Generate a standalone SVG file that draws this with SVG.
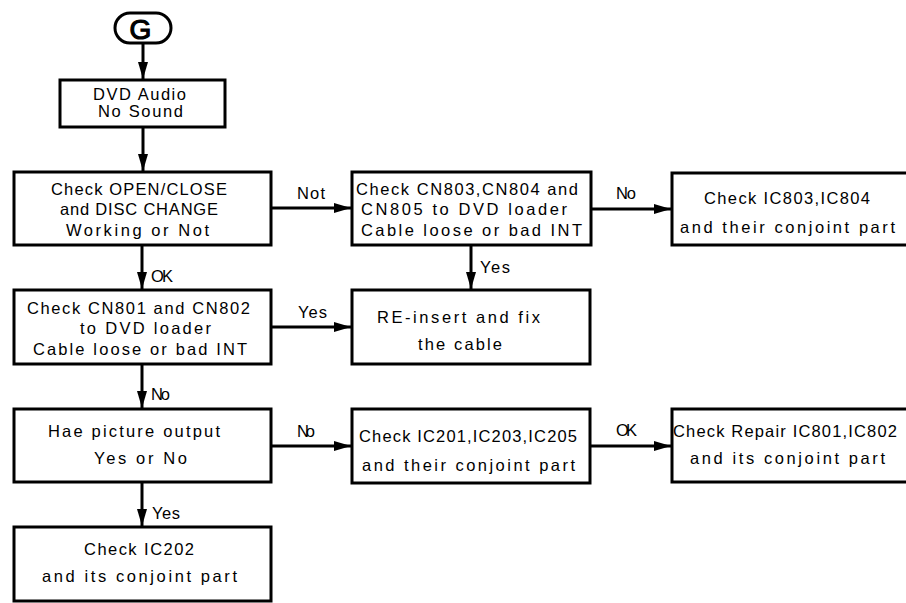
<svg xmlns="http://www.w3.org/2000/svg" width="906" height="603" viewBox="0 0 906 603">
<defs>
<marker id="ah" markerUnits="userSpaceOnUse" markerWidth="18" markerHeight="11" refX="17" refY="5" orient="auto">
<path d="M0,0 L17,5 L0,10 z" fill="#000"/>
</marker>
<style>
.box{fill:#fff;stroke:#000;stroke-width:3}
.t{font-family:"Liberation Sans",Arial,sans-serif;font-size:16.5px;fill:#000}
.c line{stroke:#000;stroke-width:3;marker-end:url(#ah)}
</style>
</defs>
<rect width="906" height="603" fill="#fff"/>
<g class="c" id="connectors">
<line x1="143" y1="43" x2="143" y2="79"/>
<line x1="143" y1="127" x2="143" y2="171"/>
<line x1="271" y1="208" x2="351" y2="208"/>
<line x1="591" y1="209" x2="671" y2="209"/>
<line x1="471" y1="245" x2="471" y2="289"/>
<line x1="142" y1="245" x2="142" y2="289"/>
<line x1="271" y1="327" x2="351" y2="327"/>
<line x1="142" y1="364" x2="142" y2="408"/>
<line x1="271" y1="446" x2="351" y2="446"/>
<line x1="590" y1="446" x2="671" y2="446"/>
<line x1="142" y1="482" x2="142" y2="526"/>
<text class="t" x="297" y="199" textLength="28">Not</text>
<text class="t" x="616" y="199" textLength="20">No</text>
<text class="t" x="480" y="273" textLength="30">Yes</text>
<text class="t" x="151" y="282" textLength="22">OK</text>
<text class="t" x="298" y="318" textLength="29">Yes</text>
<text class="t" x="151" y="400" textLength="19">No</text>
<text class="t" x="297" y="437" textLength="18">No</text>
<text class="t" x="152" y="519" textLength="28">Yes</text>
<text class="t" x="616" y="436" textLength="21">OK</text>
</g>
<g id="start">
<rect x="115" y="13" width="56" height="30" rx="15" ry="15" class="box"/>
<text class="t" x="129.5" y="39" style="font-size:28px;stroke:#000;stroke-width:1.2" textLength="18">G</text>
</g>
<g id="n1">
<rect class="box" x="60" y="80" width="165" height="47"/>
<text class="t" x="93" y="100" textLength="93">DVD Audio</text>
<text class="t" x="98" y="117" textLength="85">No Sound</text>
</g>
<g id="n2">
<rect class="box" x="14" y="172" width="257" height="73"/>
<text class="t" x="51" y="195" textLength="176">Check OPEN/CLOSE</text>
<text class="t" x="60" y="215" textLength="158">and DISC CHANGE</text>
<text class="t" x="66" y="236" textLength="143">Working or Not</text>
</g>
<g id="n3">
<rect class="box" x="352" y="172" width="239" height="73"/>
<text class="t" x="356" y="195" textLength="222">Check CN803,CN804 and</text>
<text class="t" x="361" y="215" textLength="206">CN805 to DVD loader</text>
<text class="t" x="361" y="236" textLength="221">Cable loose or bad INT</text>
</g>
<g id="n4">
<rect class="box" x="672" y="173" width="240" height="72"/>
<text class="t" x="704" y="204" textLength="166">Check IC803,IC804</text>
<text class="t" x="680" y="233" textLength="215">and their conjoint part</text>
</g>
<g id="n5">
<rect class="box" x="352" y="290" width="238" height="74"/>
<text class="t" x="377" y="323" textLength="163">RE-insert and fix</text>
<text class="t" x="418" y="350" textLength="84">the cable</text>
</g>
<g id="n6">
<rect class="box" x="14" y="290" width="257" height="74"/>
<text class="t" x="27" y="314" textLength="223">Check CN801 and CN802</text>
<text class="t" x="80" y="334" textLength="131">to DVD loader</text>
<text class="t" x="33" y="355" textLength="214">Cable loose or bad INT</text>
</g>
<g id="n7">
<rect class="box" x="14" y="409" width="257" height="73"/>
<text class="t" x="48" y="437" textLength="172">Hae picture output</text>
<text class="t" x="94" y="464" textLength="93">Yes or No</text>
</g>
<g id="n8">
<rect class="box" x="352" y="409" width="238" height="74"/>
<text class="t" x="359" y="442" textLength="218">Check IC201,IC203,IC205</text>
<text class="t" x="362" y="471" textLength="213">and their conjoint part</text>
</g>
<g id="n9">
<rect class="box" x="672" y="409" width="240" height="73"/>
<text class="t" x="673" y="437" textLength="224">Check Repair IC801,IC802</text>
<text class="t" x="690" y="464" textLength="195">and its conjoint part</text>
</g>
<g id="n10">
<rect class="box" x="14" y="527" width="257" height="74"/>
<text class="t" x="84" y="555" textLength="110">Check IC202</text>
<text class="t" x="42" y="582" textLength="195">and its conjoint part</text>
</g>
</svg>
